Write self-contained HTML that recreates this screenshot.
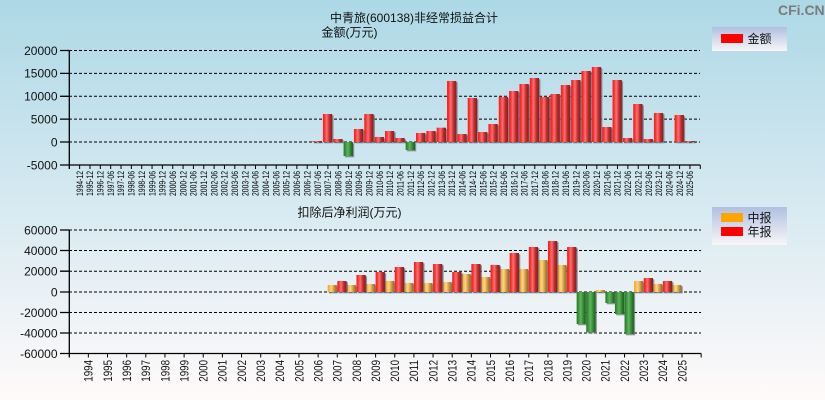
<!DOCTYPE html>
<html><head><meta charset="utf-8"><style>
html,body{margin:0;padding:0;}
body{width:825px;height:400px;overflow:hidden;background:linear-gradient(to bottom,#add8e6 0%,#d6e9f1 50%,#fffafa 100%);}
svg{display:block;}
text{font-family:"Liberation Sans","Noto Sans CJK SC",sans-serif;fill:#111;}
.yl{font-size:12px;text-anchor:end;}
.xl text{font-size:9px;text-anchor:end;fill:#000;}
.xb{font-size:12px;text-anchor:end;}
.g{stroke:#000;stroke-width:1;stroke-dasharray:3 2;fill:none;}
.ax{stroke:#000;stroke-width:1.3;fill:none;}
.sh{fill:#6a7078;opacity:.75;}
</style></head><body>
<svg width="825" height="400" viewBox="0 0 825 400" xmlns="http://www.w3.org/2000/svg">
<defs>
<linearGradient id="r" x1="0" y1="0" x2="1" y2="0"><stop offset="0" stop-color="#f02020"/><stop offset=".15" stop-color="#ff2a2a"/><stop offset=".4" stop-color="#ff7272"/><stop offset=".7" stop-color="#c62a2a"/><stop offset="1" stop-color="#7a2222"/></linearGradient>
<linearGradient id="o" x1="0" y1="0" x2="1" y2="0"><stop offset="0" stop-color="#f3a020"/><stop offset=".15" stop-color="#ffb232"/><stop offset=".4" stop-color="#ffd68a"/><stop offset=".7" stop-color="#cf9a3c"/><stop offset="1" stop-color="#8a6a30"/></linearGradient>
<linearGradient id="gr" x1="0" y1="0" x2="1" y2="0"><stop offset="0" stop-color="#1f7a1f"/><stop offset=".45" stop-color="#62b262"/><stop offset=".75" stop-color="#2f8a2f"/><stop offset="1" stop-color="#1a5a1a"/></linearGradient>
<linearGradient id="lg" x1="0" y1="0" x2="0" y2="1"><stop offset="0" stop-color="#b0c0e0"/><stop offset="1" stop-color="#f8f6f8"/></linearGradient>
</defs>

<!-- watermark -->
<text x="778" y="15" style="font-size:14px;font-weight:bold;fill:#7b7b7b;">CFi.CN</text>

<!-- titles -->
<text x="330" y="22" style="font-size:12px;">中青旅(600138)非经常损益合计</text>
<text x="321.5" y="36.5" style="font-size:12px;">金额(万元)</text>
<text x="297.5" y="216.5" style="font-size:12px;">扣除后净利润(万元)</text>

<!-- legends -->
<rect x="712" y="27" width="75" height="24" fill="url(#lg)"/>
<rect x="721" y="34" width="22" height="9" fill="#ff0000"/>
<text x="747.5" y="43" style="font-size:12px;">金额</text>
<rect x="712" y="207" width="75" height="38" fill="url(#lg)"/>
<rect x="721" y="213" width="22" height="9" fill="#ffa500"/>
<text x="747.5" y="222" style="font-size:12px;">中报</text>
<rect x="721" y="227" width="22" height="9" fill="#ff0000"/>
<text x="747.5" y="236" style="font-size:12px;">年报</text>

<!-- ===== TOP CHART ===== -->
<g>
<line class="g" x1="69" y1="50.5" x2="700" y2="50.5"/>
<line class="g" x1="69" y1="73.4" x2="700" y2="73.4"/>
<line class="g" x1="69" y1="96.3" x2="700" y2="96.3"/>
<line class="g" x1="69" y1="119.1" x2="700" y2="119.1"/>
<line class="g" x1="69" y1="142" x2="700" y2="142"/>
</g>
<g class="yl">
<text x="57.5" y="54.8">20000</text>
<text x="57.5" y="77.7">15000</text>
<text x="57.5" y="100.6">10000</text>
<text x="57.5" y="123.4">5000</text>
<text x="57.5" y="146.3">0</text>
<text x="57.5" y="169.3">-5000</text>
</g>
<!-- top bars -->
<g>
<rect class="sh" x="313.9" y="142.3" width="9.3" height="1"/><rect fill="url(#r)" x="312.56" y="141" width="9.3" height="1"/>
<rect class="sh" x="324.2" y="115.3" width="9.3" height="28"/><rect fill="url(#r)" x="322.9" y="114" width="9.3" height="28"/>
<rect class="sh" x="334.5" y="140.3" width="9.3" height="3"/><rect fill="url(#r)" x="333.24" y="139" width="9.3" height="3"/>
<rect class="sh" x="344.9" y="143.3" width="9.3" height="14"/><rect fill="url(#gr)" x="343.59" y="142" width="9.3" height="14"/>
<rect class="sh" x="355.2" y="130.3" width="9.3" height="13"/><rect fill="url(#r)" x="353.93" y="129" width="9.3" height="13"/>
<rect class="sh" x="365.6" y="115.3" width="9.3" height="28"/><rect fill="url(#r)" x="364.28" y="114" width="9.3" height="28"/>
<rect class="sh" x="375.9" y="138.3" width="9.3" height="5"/><rect fill="url(#r)" x="374.62" y="137" width="9.3" height="5"/>
<rect class="sh" x="386.3" y="132.3" width="9.3" height="11"/><rect fill="url(#r)" x="384.96" y="131" width="9.3" height="11"/>
<rect class="sh" x="396.6" y="139.3" width="9.3" height="4"/><rect fill="url(#r)" x="395.31" y="138" width="9.3" height="4"/>
<rect class="sh" x="406.9" y="143.3" width="9.3" height="8"/><rect fill="url(#gr)" x="405.65" y="142" width="9.3" height="8"/>
<rect class="sh" x="417.3" y="134.3" width="9.3" height="9"/><rect fill="url(#r)" x="416" y="133" width="9.3" height="9"/>
<rect class="sh" x="427.6" y="132.3" width="9.3" height="11"/><rect fill="url(#r)" x="426.34" y="131" width="9.3" height="11"/>
<rect class="sh" x="438" y="129" width="9.3" height="14.3"/><rect fill="url(#r)" x="436.68" y="127.7" width="9.3" height="14.3"/>
<rect class="sh" x="448.3" y="82.3" width="9.3" height="61"/><rect fill="url(#r)" x="447.03" y="81" width="9.3" height="61"/>
<rect class="sh" x="458.7" y="135.3" width="9.3" height="8"/><rect fill="url(#r)" x="457.37" y="134" width="9.3" height="8"/>
<rect class="sh" x="469" y="99.3" width="9.3" height="44"/><rect fill="url(#r)" x="467.72" y="98" width="9.3" height="44"/>
<rect class="sh" x="479.4" y="133.3" width="9.3" height="10"/><rect fill="url(#r)" x="478.06" y="132" width="9.3" height="10"/>
<rect class="sh" x="489.7" y="125.3" width="9.3" height="18"/><rect fill="url(#r)" x="488.4" y="124" width="9.3" height="18"/>
<rect class="sh" x="500.1" y="98.3" width="9.3" height="45"/><rect fill="url(#r)" x="498.75" y="97" width="9.3" height="45"/>
<rect class="sh" x="510.4" y="92.3" width="9.3" height="51"/><rect fill="url(#r)" x="509.09" y="91" width="9.3" height="51"/>
<rect class="sh" x="520.7" y="85.3" width="9.3" height="58"/><rect fill="url(#r)" x="519.44" y="84" width="9.3" height="58"/>
<rect class="sh" x="531.1" y="79.3" width="9.3" height="64"/><rect fill="url(#r)" x="529.78" y="78" width="9.3" height="64"/>
<rect class="sh" x="541.4" y="98.3" width="9.3" height="45"/><rect fill="url(#r)" x="540.12" y="97" width="9.3" height="45"/>
<rect class="sh" x="551.8" y="95.3" width="9.3" height="48"/><rect fill="url(#r)" x="550.47" y="94" width="9.3" height="48"/>
<rect class="sh" x="562.1" y="86.3" width="9.3" height="57"/><rect fill="url(#r)" x="560.81" y="85" width="9.3" height="57"/>
<rect class="sh" x="572.5" y="81.3" width="9.3" height="62"/><rect fill="url(#r)" x="571.16" y="80" width="9.3" height="62"/>
<rect class="sh" x="582.8" y="72.3" width="9.3" height="71"/><rect fill="url(#r)" x="581.5" y="71" width="9.3" height="71"/>
<rect class="sh" x="593.1" y="68.3" width="9.3" height="75"/><rect fill="url(#r)" x="591.84" y="67" width="9.3" height="75"/>
<rect class="sh" x="603.5" y="128.3" width="9.3" height="15"/><rect fill="url(#r)" x="602.19" y="127" width="9.3" height="15"/>
<rect class="sh" x="613.8" y="81.3" width="9.3" height="62"/><rect fill="url(#r)" x="612.53" y="80" width="9.3" height="62"/>
<rect class="sh" x="624.2" y="139.3" width="9.3" height="4"/><rect fill="url(#r)" x="622.88" y="138" width="9.3" height="4"/>
<rect class="sh" x="634.5" y="105.3" width="9.3" height="38"/><rect fill="url(#r)" x="633.22" y="104" width="9.3" height="38"/>
<rect class="sh" x="644.9" y="140.3" width="9.3" height="3"/><rect fill="url(#r)" x="643.56" y="139" width="9.3" height="3"/>
<rect class="sh" x="655.2" y="114.3" width="9.3" height="29"/><rect fill="url(#r)" x="653.91" y="113" width="9.3" height="29"/>
<rect class="sh" x="675.9" y="116.3" width="9.3" height="27"/><rect fill="url(#r)" x="674.6" y="115" width="9.3" height="27"/>
<rect class="sh" x="686.2" y="142.3" width="9.3" height="1"/><rect fill="url(#r)" x="684.94" y="141" width="9.3" height="1"/>
</g>
<!-- top axes -->
<line class="ax" x1="69.3" y1="50.5" x2="69.3" y2="169"/>
<line class="ax" x1="69" y1="165" x2="700.3" y2="165"/>
<path class="ax" d="M60 50.5H69M60 73.4H69M60 96.3H69M60 119.1H69M60 142H69M60 165H69"/>
<path class="ax" style="stroke-width:1" d="M79.64 165v4M89.99 165v4M100.33 165v4M110.68 165v4M121.02 165v4M131.36 165v4M141.71 165v4M152.05 165v4M162.4 165v4M172.74 165v4M183.08 165v4M193.43 165v4M203.77 165v4M214.12 165v4M224.46 165v4M234.8 165v4M245.15 165v4M255.49 165v4M265.84 165v4M276.18 165v4M286.52 165v4M296.87 165v4M307.21 165v4M317.56 165v4M327.9 165v4M338.24 165v4M348.59 165v4M358.93 165v4M369.28 165v4M379.62 165v4M389.96 165v4M400.31 165v4M410.65 165v4M421 165v4M431.34 165v4M441.68 165v4M452.03 165v4M462.37 165v4M472.72 165v4M483.06 165v4M493.4 165v4M503.75 165v4M514.09 165v4M524.44 165v4M534.78 165v4M545.12 165v4M555.47 165v4M565.81 165v4M576.16 165v4M586.5 165v4M596.84 165v4M607.19 165v4M617.53 165v4M627.88 165v4M638.22 165v4M648.56 165v4M658.91 165v4M669.25 165v4M679.6 165v4M689.94 165v4M700.28 165v4"/>
<!-- top x labels -->
<g class="xl">
<text textLength="25" lengthAdjust="spacingAndGlyphs" transform="translate(82.84,171) rotate(-90)">1994-12</text>
<text textLength="25" lengthAdjust="spacingAndGlyphs" transform="translate(93.19,171) rotate(-90)">1995-12</text>
<text textLength="25" lengthAdjust="spacingAndGlyphs" transform="translate(103.53,171) rotate(-90)">1996-12</text>
<text textLength="25" lengthAdjust="spacingAndGlyphs" transform="translate(113.88,171) rotate(-90)">1997-06</text>
<text textLength="25" lengthAdjust="spacingAndGlyphs" transform="translate(124.22,171) rotate(-90)">1997-12</text>
<text textLength="25" lengthAdjust="spacingAndGlyphs" transform="translate(134.56,171) rotate(-90)">1998-06</text>
<text textLength="25" lengthAdjust="spacingAndGlyphs" transform="translate(144.91,171) rotate(-90)">1998-12</text>
<text textLength="25" lengthAdjust="spacingAndGlyphs" transform="translate(155.25,171) rotate(-90)">1999-06</text>
<text textLength="25" lengthAdjust="spacingAndGlyphs" transform="translate(165.6,171) rotate(-90)">1999-12</text>
<text textLength="25" lengthAdjust="spacingAndGlyphs" transform="translate(175.94,171) rotate(-90)">2000-06</text>
<text textLength="25" lengthAdjust="spacingAndGlyphs" transform="translate(186.28,171) rotate(-90)">2000-12</text>
<text textLength="25" lengthAdjust="spacingAndGlyphs" transform="translate(196.63,171) rotate(-90)">2001-06</text>
<text textLength="25" lengthAdjust="spacingAndGlyphs" transform="translate(206.97,171) rotate(-90)">2001-12</text>
<text textLength="25" lengthAdjust="spacingAndGlyphs" transform="translate(217.32,171) rotate(-90)">2002-06</text>
<text textLength="25" lengthAdjust="spacingAndGlyphs" transform="translate(227.66,171) rotate(-90)">2002-12</text>
<text textLength="25" lengthAdjust="spacingAndGlyphs" transform="translate(238,171) rotate(-90)">2003-06</text>
<text textLength="25" lengthAdjust="spacingAndGlyphs" transform="translate(248.35,171) rotate(-90)">2003-12</text>
<text textLength="25" lengthAdjust="spacingAndGlyphs" transform="translate(258.69,171) rotate(-90)">2004-06</text>
<text textLength="25" lengthAdjust="spacingAndGlyphs" transform="translate(269.04,171) rotate(-90)">2004-12</text>
<text textLength="25" lengthAdjust="spacingAndGlyphs" transform="translate(279.38,171) rotate(-90)">2005-06</text>
<text textLength="25" lengthAdjust="spacingAndGlyphs" transform="translate(289.72,171) rotate(-90)">2005-12</text>
<text textLength="25" lengthAdjust="spacingAndGlyphs" transform="translate(300.07,171) rotate(-90)">2006-06</text>
<text textLength="25" lengthAdjust="spacingAndGlyphs" transform="translate(310.41,171) rotate(-90)">2006-12</text>
<text textLength="25" lengthAdjust="spacingAndGlyphs" transform="translate(320.76,171) rotate(-90)">2007-06</text>
<text textLength="25" lengthAdjust="spacingAndGlyphs" transform="translate(331.1,171) rotate(-90)">2007-12</text>
<text textLength="25" lengthAdjust="spacingAndGlyphs" transform="translate(341.44,171) rotate(-90)">2008-06</text>
<text textLength="25" lengthAdjust="spacingAndGlyphs" transform="translate(351.79,171) rotate(-90)">2008-12</text>
<text textLength="25" lengthAdjust="spacingAndGlyphs" transform="translate(362.13,171) rotate(-90)">2009-06</text>
<text textLength="25" lengthAdjust="spacingAndGlyphs" transform="translate(372.48,171) rotate(-90)">2009-12</text>
<text textLength="25" lengthAdjust="spacingAndGlyphs" transform="translate(382.82,171) rotate(-90)">2010-06</text>
<text textLength="25" lengthAdjust="spacingAndGlyphs" transform="translate(393.16,171) rotate(-90)">2010-12</text>
<text textLength="25" lengthAdjust="spacingAndGlyphs" transform="translate(403.51,171) rotate(-90)">2011-06</text>
<text textLength="25" lengthAdjust="spacingAndGlyphs" transform="translate(413.85,171) rotate(-90)">2011-12</text>
<text textLength="25" lengthAdjust="spacingAndGlyphs" transform="translate(424.2,171) rotate(-90)">2012-06</text>
<text textLength="25" lengthAdjust="spacingAndGlyphs" transform="translate(434.54,171) rotate(-90)">2012-12</text>
<text textLength="25" lengthAdjust="spacingAndGlyphs" transform="translate(444.88,171) rotate(-90)">2013-06</text>
<text textLength="25" lengthAdjust="spacingAndGlyphs" transform="translate(455.23,171) rotate(-90)">2013-12</text>
<text textLength="25" lengthAdjust="spacingAndGlyphs" transform="translate(465.57,171) rotate(-90)">2014-06</text>
<text textLength="25" lengthAdjust="spacingAndGlyphs" transform="translate(475.92,171) rotate(-90)">2014-12</text>
<text textLength="25" lengthAdjust="spacingAndGlyphs" transform="translate(486.26,171) rotate(-90)">2015-06</text>
<text textLength="25" lengthAdjust="spacingAndGlyphs" transform="translate(496.6,171) rotate(-90)">2015-12</text>
<text textLength="25" lengthAdjust="spacingAndGlyphs" transform="translate(506.95,171) rotate(-90)">2016-06</text>
<text textLength="25" lengthAdjust="spacingAndGlyphs" transform="translate(517.29,171) rotate(-90)">2016-12</text>
<text textLength="25" lengthAdjust="spacingAndGlyphs" transform="translate(527.64,171) rotate(-90)">2017-06</text>
<text textLength="25" lengthAdjust="spacingAndGlyphs" transform="translate(537.98,171) rotate(-90)">2017-12</text>
<text textLength="25" lengthAdjust="spacingAndGlyphs" transform="translate(548.32,171) rotate(-90)">2018-06</text>
<text textLength="25" lengthAdjust="spacingAndGlyphs" transform="translate(558.67,171) rotate(-90)">2018-12</text>
<text textLength="25" lengthAdjust="spacingAndGlyphs" transform="translate(569.01,171) rotate(-90)">2019-06</text>
<text textLength="25" lengthAdjust="spacingAndGlyphs" transform="translate(579.36,171) rotate(-90)">2019-12</text>
<text textLength="25" lengthAdjust="spacingAndGlyphs" transform="translate(589.7,171) rotate(-90)">2020-06</text>
<text textLength="25" lengthAdjust="spacingAndGlyphs" transform="translate(600.04,171) rotate(-90)">2020-12</text>
<text textLength="25" lengthAdjust="spacingAndGlyphs" transform="translate(610.39,171) rotate(-90)">2021-06</text>
<text textLength="25" lengthAdjust="spacingAndGlyphs" transform="translate(620.73,171) rotate(-90)">2021-12</text>
<text textLength="25" lengthAdjust="spacingAndGlyphs" transform="translate(631.08,171) rotate(-90)">2022-06</text>
<text textLength="25" lengthAdjust="spacingAndGlyphs" transform="translate(641.42,171) rotate(-90)">2022-12</text>
<text textLength="25" lengthAdjust="spacingAndGlyphs" transform="translate(651.76,171) rotate(-90)">2023-06</text>
<text textLength="25" lengthAdjust="spacingAndGlyphs" transform="translate(662.11,171) rotate(-90)">2023-12</text>
<text textLength="25" lengthAdjust="spacingAndGlyphs" transform="translate(672.45,171) rotate(-90)">2024-06</text>
<text textLength="25" lengthAdjust="spacingAndGlyphs" transform="translate(682.8,171) rotate(-90)">2024-12</text>
<text textLength="25" lengthAdjust="spacingAndGlyphs" transform="translate(693.14,171) rotate(-90)">2025-06</text>
</g>

<!-- ===== BOTTOM CHART ===== -->
<g>
<line class="g" x1="69" y1="230" x2="701" y2="230"/>
<line class="g" x1="69" y1="250.5" x2="701" y2="250.5"/>
<line class="g" x1="69" y1="271.2" x2="701" y2="271.2"/>
<line class="g" x1="69" y1="292" x2="701" y2="292"/>
<line class="g" x1="69" y1="312.5" x2="701" y2="312.5"/>
<line class="g" x1="69" y1="333" x2="701" y2="333"/>
</g>
<g class="yl">
<text x="57.5" y="234.3">60000</text>
<text x="57.5" y="254.8">40000</text>
<text x="57.5" y="275.5">20000</text>
<text x="57.5" y="296.3">0</text>
<text x="57.5" y="316.8">-20000</text>
<text x="57.5" y="337.3">-40000</text>
<text x="57.5" y="357.8">-60000</text>
</g>
<!-- bottom bars: 中报 -->
<g>
<rect class="sh" x="329" y="286.3" width="9" height="7"/><rect fill="url(#o)" x="327.7" y="285" width="9" height="7"/>
<rect class="sh" x="348.15" y="286.3" width="9" height="7"/><rect fill="url(#o)" x="346.85" y="285" width="9" height="7"/>
<rect class="sh" x="367.3" y="285.3" width="9" height="8"/><rect fill="url(#o)" x="366" y="284" width="9" height="8"/>
<rect class="sh" x="386.45" y="282.3" width="9" height="11"/><rect fill="url(#o)" x="385.15" y="281" width="9" height="11"/>
<rect class="sh" x="405.6" y="284.3" width="9" height="9"/><rect fill="url(#o)" x="404.3" y="283" width="9" height="9"/>
<rect class="sh" x="424.75" y="284.3" width="9" height="9"/><rect fill="url(#o)" x="423.45" y="283" width="9" height="9"/>
<rect class="sh" x="443.9" y="283.3" width="9" height="10"/><rect fill="url(#o)" x="442.6" y="282" width="9" height="10"/>
<rect class="sh" x="463.05" y="275.3" width="9" height="18"/><rect fill="url(#o)" x="461.75" y="274" width="9" height="18"/>
<rect class="sh" x="482.2" y="278.3" width="9" height="15"/><rect fill="url(#o)" x="480.9" y="277" width="9" height="15"/>
<rect class="sh" x="501.35" y="270.3" width="9" height="23"/><rect fill="url(#o)" x="500.05" y="269" width="9" height="23"/>
<rect class="sh" x="520.5" y="270.3" width="9" height="23"/><rect fill="url(#o)" x="519.2" y="269" width="9" height="23"/>
<rect class="sh" x="539.65" y="261.3" width="9" height="32"/><rect fill="url(#o)" x="538.35" y="260" width="9" height="32"/>
<rect class="sh" x="558.8" y="266.3" width="9" height="27"/><rect fill="url(#o)" x="557.5" y="265" width="9" height="27"/>
<rect class="sh" x="577.95" y="293.3" width="9" height="32"/><rect fill="url(#gr)" x="576.65" y="292" width="9" height="32"/>
<rect class="sh" x="597.1" y="291.3" width="9" height="2"/><rect fill="url(#o)" x="595.8" y="290" width="9" height="2"/>
<rect class="sh" x="616.25" y="293.3" width="9" height="22"/><rect fill="url(#gr)" x="614.95" y="292" width="9" height="22"/>
<rect class="sh" x="635.4" y="282.3" width="9" height="11"/><rect fill="url(#o)" x="634.1" y="281" width="9" height="11"/>
<rect class="sh" x="654.55" y="285.3" width="9" height="8"/><rect fill="url(#o)" x="653.25" y="284" width="9" height="8"/>
<rect class="sh" x="673.7" y="286.3" width="9" height="7"/><rect fill="url(#o)" x="672.4" y="285" width="9" height="7"/>
</g>
<!-- bottom bars: 年报 -->
<g>
<rect class="sh" x="338.6" y="282.3" width="9.3" height="11"/><rect fill="url(#r)" x="337.3" y="281" width="9.3" height="11"/>
<rect class="sh" x="357.75" y="276.3" width="9.3" height="17"/><rect fill="url(#r)" x="356.45" y="275" width="9.3" height="17"/>
<rect class="sh" x="376.9" y="273.3" width="9.3" height="20"/><rect fill="url(#r)" x="375.6" y="272" width="9.3" height="20"/>
<rect class="sh" x="396.05" y="268.3" width="9.3" height="25"/><rect fill="url(#r)" x="394.75" y="267" width="9.3" height="25"/>
<rect class="sh" x="415.2" y="263.3" width="9.3" height="30"/><rect fill="url(#r)" x="413.9" y="262" width="9.3" height="30"/>
<rect class="sh" x="434.35" y="265.3" width="9.3" height="28"/><rect fill="url(#r)" x="433.05" y="264" width="9.3" height="28"/>
<rect class="sh" x="453.5" y="273.3" width="9.3" height="20"/><rect fill="url(#r)" x="452.2" y="272" width="9.3" height="20"/>
<rect class="sh" x="472.65" y="265.3" width="9.3" height="28"/><rect fill="url(#r)" x="471.35" y="264" width="9.3" height="28"/>
<rect class="sh" x="491.8" y="266.3" width="9.3" height="27"/><rect fill="url(#r)" x="490.5" y="265" width="9.3" height="27"/>
<rect class="sh" x="510.95" y="254.3" width="9.3" height="39"/><rect fill="url(#r)" x="509.65" y="253" width="9.3" height="39"/>
<rect class="sh" x="530.1" y="248.3" width="9.3" height="45"/><rect fill="url(#r)" x="528.8" y="247" width="9.3" height="45"/>
<rect class="sh" x="549.25" y="242.3" width="9.3" height="51"/><rect fill="url(#r)" x="547.95" y="241" width="9.3" height="51"/>
<rect class="sh" x="568.4" y="248.3" width="9.3" height="45"/><rect fill="url(#r)" x="567.1" y="247" width="9.3" height="45"/>
<rect class="sh" x="587.55" y="293.3" width="9.3" height="40"/><rect fill="url(#gr)" x="586.25" y="292" width="9.3" height="40"/>
<rect class="sh" x="606.7" y="293.3" width="9.3" height="11"/><rect fill="url(#gr)" x="605.4" y="292" width="9.3" height="11"/>
<rect class="sh" x="625.85" y="293.3" width="9.3" height="42"/><rect fill="url(#gr)" x="624.55" y="292" width="9.3" height="42"/>
<rect class="sh" x="645" y="279.3" width="9.3" height="14"/><rect fill="url(#r)" x="643.7" y="278" width="9.3" height="14"/>
<rect class="sh" x="664.15" y="282.3" width="9.3" height="11"/><rect fill="url(#r)" x="662.85" y="281" width="9.3" height="11"/>
</g>
<!-- bottom axes -->
<line class="ax" x1="69.3" y1="230" x2="69.3" y2="357.5"/>
<line class="ax" x1="69" y1="353.5" x2="701.2" y2="353.5"/>
<path class="ax" d="M60 230H69M60 250.5H69M60 271.2H69M60 292H69M60 312.5H69M60 333H69M60 353.5H69"/>
<path class="ax" style="stroke-width:1" d="M88.35 353.5v4M107.5 353.5v4M126.65 353.5v4M145.8 353.5v4M164.95 353.5v4M184.1 353.5v4M203.25 353.5v4M222.4 353.5v4M241.55 353.5v4M260.7 353.5v4M279.85 353.5v4M299 353.5v4M318.15 353.5v4M337.3 353.5v4M356.45 353.5v4M375.6 353.5v4M394.75 353.5v4M413.9 353.5v4M433.05 353.5v4M452.2 353.5v4M471.35 353.5v4M490.5 353.5v4M509.65 353.5v4M528.8 353.5v4M547.95 353.5v4M567.1 353.5v4M586.25 353.5v4M605.4 353.5v4M624.55 353.5v4M643.7 353.5v4M662.85 353.5v4M682 353.5v4M701.15 353.5v4"/>
<g class="xb">
<text textLength="21.7" lengthAdjust="spacingAndGlyphs" transform="translate(92.65,360) rotate(-90)">1994</text>
<text textLength="21.7" lengthAdjust="spacingAndGlyphs" transform="translate(111.8,360) rotate(-90)">1995</text>
<text textLength="21.7" lengthAdjust="spacingAndGlyphs" transform="translate(130.95,360) rotate(-90)">1996</text>
<text textLength="21.7" lengthAdjust="spacingAndGlyphs" transform="translate(150.1,360) rotate(-90)">1997</text>
<text textLength="21.7" lengthAdjust="spacingAndGlyphs" transform="translate(169.25,360) rotate(-90)">1998</text>
<text textLength="21.7" lengthAdjust="spacingAndGlyphs" transform="translate(188.4,360) rotate(-90)">1999</text>
<text textLength="21.7" lengthAdjust="spacingAndGlyphs" transform="translate(207.55,360) rotate(-90)">2000</text>
<text textLength="21.7" lengthAdjust="spacingAndGlyphs" transform="translate(226.7,360) rotate(-90)">2001</text>
<text textLength="21.7" lengthAdjust="spacingAndGlyphs" transform="translate(245.85,360) rotate(-90)">2002</text>
<text textLength="21.7" lengthAdjust="spacingAndGlyphs" transform="translate(265,360) rotate(-90)">2003</text>
<text textLength="21.7" lengthAdjust="spacingAndGlyphs" transform="translate(284.15,360) rotate(-90)">2004</text>
<text textLength="21.7" lengthAdjust="spacingAndGlyphs" transform="translate(303.3,360) rotate(-90)">2005</text>
<text textLength="21.7" lengthAdjust="spacingAndGlyphs" transform="translate(322.45,360) rotate(-90)">2006</text>
<text textLength="21.7" lengthAdjust="spacingAndGlyphs" transform="translate(341.6,360) rotate(-90)">2007</text>
<text textLength="21.7" lengthAdjust="spacingAndGlyphs" transform="translate(360.75,360) rotate(-90)">2008</text>
<text textLength="21.7" lengthAdjust="spacingAndGlyphs" transform="translate(379.9,360) rotate(-90)">2009</text>
<text textLength="21.7" lengthAdjust="spacingAndGlyphs" transform="translate(399.05,360) rotate(-90)">2010</text>
<text textLength="21.7" lengthAdjust="spacingAndGlyphs" transform="translate(418.2,360) rotate(-90)">2011</text>
<text textLength="21.7" lengthAdjust="spacingAndGlyphs" transform="translate(437.35,360) rotate(-90)">2012</text>
<text textLength="21.7" lengthAdjust="spacingAndGlyphs" transform="translate(456.5,360) rotate(-90)">2013</text>
<text textLength="21.7" lengthAdjust="spacingAndGlyphs" transform="translate(475.65,360) rotate(-90)">2014</text>
<text textLength="21.7" lengthAdjust="spacingAndGlyphs" transform="translate(494.8,360) rotate(-90)">2015</text>
<text textLength="21.7" lengthAdjust="spacingAndGlyphs" transform="translate(513.95,360) rotate(-90)">2016</text>
<text textLength="21.7" lengthAdjust="spacingAndGlyphs" transform="translate(533.1,360) rotate(-90)">2017</text>
<text textLength="21.7" lengthAdjust="spacingAndGlyphs" transform="translate(552.25,360) rotate(-90)">2018</text>
<text textLength="21.7" lengthAdjust="spacingAndGlyphs" transform="translate(571.4,360) rotate(-90)">2019</text>
<text textLength="21.7" lengthAdjust="spacingAndGlyphs" transform="translate(590.55,360) rotate(-90)">2020</text>
<text textLength="21.7" lengthAdjust="spacingAndGlyphs" transform="translate(609.7,360) rotate(-90)">2021</text>
<text textLength="21.7" lengthAdjust="spacingAndGlyphs" transform="translate(628.85,360) rotate(-90)">2022</text>
<text textLength="21.7" lengthAdjust="spacingAndGlyphs" transform="translate(648,360) rotate(-90)">2023</text>
<text textLength="21.7" lengthAdjust="spacingAndGlyphs" transform="translate(667.15,360) rotate(-90)">2024</text>
<text textLength="21.7" lengthAdjust="spacingAndGlyphs" transform="translate(686.3,360) rotate(-90)">2025</text>
</g>
</svg>
</body></html>
